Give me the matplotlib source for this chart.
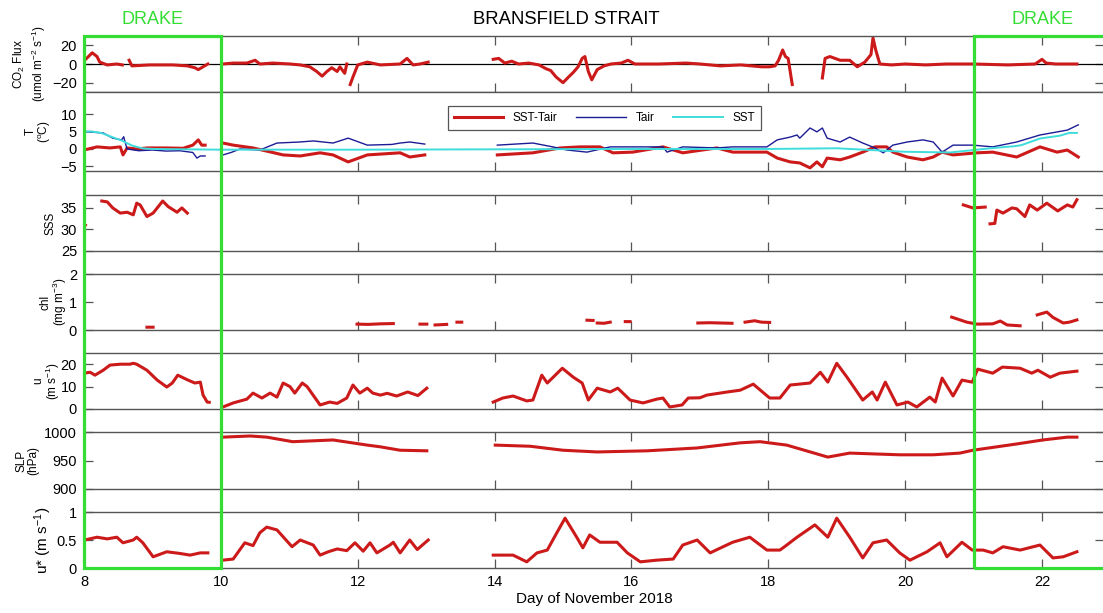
import numpy as np
import matplotlib.pyplot as plt
from matplotlib.patches import Rectangle
from matplotlib import transforms

plt.rcParams['font.family'] = ['Liberation Sans', 'DejaVu Sans']
plt.rcParams['mathtext.fontset'] = 'custom'
plt.rcParams['mathtext.rm'] = 'Liberation Sans'
plt.rcParams['mathtext.it'] = 'Liberation Sans:italic'
plt.rcParams['mathtext.default'] = 'regular'

nan = np.nan

# ---- cruise data (day of November 2018), nan marks gaps in the record ----
co2_t = [8.01, 8.12, 8.19, 8.23, 8.34, 8.48, 8.56, nan,
         8.66, 8.70, 8.96, 9.30, 9.51, 9.62, 9.67, 9.74, 9.81, nan,
         10.03, 10.18, 10.38, 10.50, 10.57, 10.76, 11.01, 11.16, 11.30, 11.40, 11.48, 11.55, 11.62, 11.70,
         11.74, 11.81, 11.84, nan,
         11.89, 11.93, 12.00, 12.14, 12.33, 12.62, 12.72, 12.81, 12.91, 13.03, nan,
         13.98, 14.06, 14.15, 14.25, 14.35, 14.50, 14.65, 14.75, 14.82, 14.90, 15.00, 15.08, 15.15, 15.22,
         15.28, 15.32, 15.37, 15.42, 15.50, 15.60, 15.70, 15.85, 15.95, 16.05, 16.40, 16.80, 17.00, 17.30,
         17.60, 17.90, 18.02, 18.10, 18.15, 18.21, 18.25, 18.29, 18.35, nan,
         18.79, 18.83, 18.90, 19.05, 19.19, 19.30, 19.41, 19.50, 19.53, 19.57, 19.63, 19.80, 20.00, 20.30,
         20.60, 21.00, 21.50, 21.90, 22.00, 22.06, 22.20, 22.51]
co2_flux = [4, 12, 8, 2, -1, 0, -1, nan,
            4, -2, -1, -1, -2, -4, -6, -3, 0, nan,
            0, 1, 1, 4, 0, 1, 0, -1, -3, -8, -13, -8, -4, -8,
            -3, -10, 0, nan,
            -22, -14, -1, 2, -1, 0, 6, -1, 0, 2, nan,
            5, 6, 1, 3, 0, 1, -1, -5, -7, -14, -20, -14, -9, -3,
            6, 8, -8, -17, -6, -2, 0, 1, 4, 0, 0, 1, 0, -2,
            -1, -3, -3, -2, 4, 15, 8, 6, -22, nan,
            -15, 6, 8, 4, 4, -3, 2, 10, 28, 15, 0, -1, 0, -1,
            0, 0, -1, 0, 5, 1, 0, 0]

sst_t = [8.0, 8.1, 8.25, 8.4, 8.55, 8.7, 8.85, 9.0, 10.0, 12.0, 14.0, 16.0, 18.0, 18.5, 19.0,
         20.0, 20.66, 21.0, 21.3, 21.6, 21.7, 21.97, 22.26, 22.4, 22.51]
sst = [5.0, 5.0, 4.6, 3.5, 2.4, 1.0, 0.2, 0.0, -0.2, -0.2, -0.1, 0.0, 0.0, 0.1, 0.2,
       -0.8, -1.0, -0.3, 0.3, 0.8, 1.1, 3.0, 3.8, 4.6, 4.6]

tair_t = [8.0, 8.04, 8.28, 8.42, 8.55, 8.58, 8.60, 8.63, 8.80, 9.00, 9.20, 9.40, 9.59, 9.65, 9.70, 9.77, nan,
          10.03, 10.15, 10.28, 10.57, 10.82, 11.16, 11.35, 11.64, 11.86, 12.14, 12.50, 12.62, 12.76, 12.98, nan,
          14.04, 14.56, 14.85, 15.06, 15.35, 15.69, 16.02, 16.46, 16.52, 16.75, 17.25, 17.48, 17.98, 18.13,
          18.32, 18.42, 18.46, 18.61, 18.71, 18.79, 18.86, 19.05, 19.19, 19.38, 19.56, 19.68, 19.82, 20.03,
          20.26, 20.41, 20.54, 20.70, 20.99, 21.28, 21.63, 21.97, 22.37, 22.53]
tair = [5.0, 4.9, 4.6, 3.1, 2.6, 3.5, 2.0, 0.0, -0.5, -0.3, -0.6, -0.5, -1.0, -2.6, -2.0, -2.0, nan,
        -1.7, -1.0, 0.0, -0.3, 1.7, 2.0, 2.3, 1.7, 3.1, 1.1, 1.3, 1.7, 2.0, 1.4, nan,
        1.1, 1.7, 0.6, -0.3, -0.9, 0.6, 0.6, 0.6, -0.9, 0.6, 0.3, 0.6, 0.6, 2.6,
        3.4, 4.0, 3.1, 6.0, 4.9, 6.0, 3.1, 2.0, 3.4, 1.7, 0.3, -1.1, 1.1, 2.0,
        2.6, 2.0, -0.9, 1.1, 1.1, 0.6, 2.0, 4.0, 5.4, 6.9]

dt_t = [8.0, 8.19, 8.38, 8.53, 8.57, 8.63, 8.77, 8.92, 9.20, 9.45, 9.59, 9.67, 9.72, 9.77, nan,
        10.03, 10.18, 10.47, 10.91, 11.16, 11.45, 11.64, 11.86, 12.14, 12.62, 12.76, 12.98, nan,
        14.04, 14.56, 14.96, 15.25, 15.54, 15.73, 16.02, 16.46, 16.75, 17.25, 17.48, 17.98, 18.13, 18.32,
        18.46, 18.61, 18.71, 18.79, 18.86, 19.05, 19.19, 19.38, 19.56, 19.73, 19.82, 20.03, 20.26, 20.41,
        20.54, 20.70, 21.05, 21.28, 21.63, 21.97, 22.22, 22.37, 22.53]
sst_minus_tair = [-0.3, 0.6, 0.3, 0.6, -1.7, 0.3, 0.0, 0.3, 0.3, 0.2, 1.1, 2.6, 1.1, 1.1, nan,
                  1.7, 1.1, 0.3, -1.7, -2.0, -1.1, -1.7, -3.7, -1.7, -1.1, -2.3, -1.7, nan,
                  -1.7, -1.1, 0.3, 0.6, 0.6, -1.1, -0.9, 0.6, -1.1, 0.3, -0.9, -0.9, -2.6, -3.7,
                  -4.0, -5.4, -3.7, -5.1, -2.6, -3.1, -2.3, -0.9, 0.6, 0.6, -0.9, -2.3, -3.1, -2.3,
                  -0.9, -1.7, -1.1, -0.9, -2.3, 0.6, -0.9, -0.3, -2.3]

sss_t = [8.00, 8.02, nan,
         8.26, 8.34, 8.42, 8.53, 8.63, 8.72, 8.77, 8.82, 8.92, 9.01, 9.15, 9.23, 9.36, 9.43, 9.51, nan,
         20.85, 20.99, 21.17, nan,
         21.24, 21.31, 21.34, 21.43, 21.56, 21.63, 21.75, 21.82, 21.93, 22.07, 22.23, 22.37, 22.45, 22.51]
sss = [31.2, 31.0, nan,
       36.6, 36.4, 35.0, 33.8, 34.0, 33.4, 36.1, 35.7, 33.0, 33.8, 36.6, 35.3, 34.0, 35.0, 33.8, nan,
       35.7, 35.0, 35.2, nan,
       31.3, 31.4, 34.5, 33.8, 35.0, 34.8, 33.0, 35.7, 34.5, 36.1, 34.3, 35.7, 35.2, 36.9]

chl_t = [8.92, 9.01, nan,
         11.99, 12.15, 12.33, 12.52, nan,
         12.91, 13.01, nan,
         13.13, 13.30, nan,
         13.45, 13.52, nan,
         15.35, 15.44, nan,
         15.50, 15.60, 15.69, nan,
         15.91, 15.98, nan,
         16.97, 17.15, 17.30, 17.47, nan,
         17.66, 17.80, 17.90, 18.02, nan,
         20.68, 20.90, 21.05, 21.28, 21.39, 21.49, 21.68, nan,
         21.93, 22.07, 22.16, 22.31, 22.40, 22.51]
chl = [0.10, 0.10, nan,
       0.21, 0.20, 0.22, 0.23, nan,
       0.21, 0.21, nan,
       0.18, 0.20, nan,
       0.28, 0.28, nan,
       0.35, 0.34, nan,
       0.25, 0.24, 0.28, nan,
       0.30, 0.30, nan,
       0.25, 0.26, 0.25, 0.24, nan,
       0.28, 0.33, 0.28, 0.27, nan,
       0.46, 0.28, 0.21, 0.22, 0.32, 0.18, 0.15, nan,
       0.54, 0.64, 0.45, 0.25, 0.28, 0.36]

u_t = [8.00, 8.09, 8.16, 8.28, 8.38, 8.53, 8.67, 8.72, 8.77, 8.92, 9.07, 9.21, 9.29, 9.37, 9.52, 9.62,
       9.70, 9.74, 9.80, 9.83, nan,
       10.03, 10.18, 10.38, 10.47, 10.60, 10.72, 10.82, 10.91, 11.01, 11.08, 11.19, 11.26, 11.45, 11.59,
       11.70, 11.84, 11.93, 12.03, 12.14, 12.22, 12.33, 12.43, 12.57, 12.73, 12.88, 13.01, nan,
       13.98, 14.12, 14.27, 14.47, 14.56, 14.69, 14.77, 14.99, 15.15, 15.28, 15.37, 15.50, 15.69, 15.80,
       15.98, 16.17, 16.37, 16.46, 16.56, 16.74, 16.83, 17.00, 17.10, 17.40, 17.59, 17.78, 18.02, 18.17,
       18.32, 18.61, 18.76, 18.87, 19.00, 19.15, 19.38, 19.52, 19.59, 19.71, 19.88, 20.04, 20.17, 20.36,
       20.44, 20.54, 20.70, 20.83, 20.98, 21.06, 21.28, 21.42, 21.68, 21.85, 21.94, 22.12, 22.26, 22.51]
u = [16.0, 16.4, 15.1, 17.3, 19.6, 20.0, 20.0, 20.4, 20.0, 17.3, 12.9, 9.8, 11.6, 15.1, 12.9, 11.6,
     12.0, 6.2, 3.1, 3.0, nan,
     0.9, 2.7, 4.4, 7.1, 4.9, 7.1, 5.3, 11.6, 10.0, 7.1, 11.6, 10.0, 1.8, 3.1,
     2.5, 4.9, 10.7, 7.1, 9.3, 7.1, 6.2, 7.0, 5.8, 7.6, 6.0, 9.3, nan,
     3.1, 4.9, 5.8, 3.6, 4.0, 15.1, 11.6, 18.2, 14.2, 11.6, 4.0, 9.3, 7.6, 9.3,
     4.0, 2.7, 4.4, 4.9, 0.9, 1.8, 4.9, 5.0, 6.2, 7.6, 8.4, 11.1, 4.9, 4.9,
     10.7, 11.6, 16.4, 12.0, 20.4, 14.2, 4.0, 7.6, 4.0, 12.0, 1.8, 3.1, 0.9, 5.3,
     3.1, 13.8, 5.8, 12.9, 12.0, 17.8, 16.0, 18.7, 18.2, 16.0, 17.3, 14.2, 16.0, 16.9]

slp_t = [10.03, 10.43, 10.67, 11.05, 11.64, 12.14, 12.33, 12.62, 13.01, nan,
         14.01, 14.52, 15.00, 15.50, 16.23, 16.96, 17.59, 17.88, 18.27, 18.87, 19.19, 19.92, 20.41,
         20.80, 20.99, 21.63, 22.01, 22.37, 22.51]
slp = [991, 993, 991, 983, 986, 977, 974, 968, 967, nan,
       977, 975, 968, 965, 967, 972, 981, 983, 977, 956, 963, 960, 960,
       963, 968, 979, 986, 991, 991]

ustar_t = [8.01, 8.19, 8.34, 8.48, 8.57, 8.72, 8.77, 8.86, 9.01, 9.21, 9.40, 9.55, 9.70, 9.81, nan,
           10.03, 10.18, 10.35, 10.47, 10.57, 10.67, 10.82, 11.04, 11.16, 11.35, 11.45, 11.57, 11.70,
           11.84, 11.96, 12.08, 12.18, 12.28, 12.47, 12.52, 12.62, 12.76, 12.87, 13.03, nan,
           13.98, 14.27, 14.47, 14.62, 14.77, 14.91, 15.03, 15.20, 15.29, 15.39, 15.54, 15.79, 15.94,
           16.13, 16.37, 16.61, 16.75, 16.96, 17.15, 17.34, 17.48, 17.73, 17.98, 18.17, 18.27, 18.42,
           18.61, 18.68, 18.87, 19.00, 19.19, 19.38, 19.53, 19.73, 19.92, 20.07, 20.32, 20.51, 20.61,
           20.83, 20.98, 21.14, 21.28, 21.43, 21.68, 21.97, 22.16, 22.31, 22.51]
ustar = [0.50, 0.55, 0.52, 0.55, 0.45, 0.50, 0.55, 0.45, 0.20, 0.29, 0.26, 0.23, 0.27, 0.27, nan,
         0.14, 0.16, 0.45, 0.40, 0.63, 0.73, 0.68, 0.38, 0.50, 0.41, 0.23, 0.29, 0.34,
         0.31, 0.45, 0.30, 0.45, 0.27, 0.41, 0.46, 0.27, 0.50, 0.33, 0.50, nan,
         0.23, 0.23, 0.11, 0.27, 0.32, 0.63, 0.89, 0.55, 0.36, 0.59, 0.46, 0.46, 0.27,
         0.11, 0.14, 0.16, 0.41, 0.50, 0.27, 0.38, 0.46, 0.55, 0.32, 0.32, 0.41, 0.55,
         0.71, 0.77, 0.55, 0.89, 0.55, 0.18, 0.45, 0.50, 0.27, 0.14, 0.29, 0.45, 0.20,
         0.46, 0.32, 0.32, 0.27, 0.38, 0.32, 0.41, 0.18, 0.20, 0.29]

red = '#cc1a1a'
blue = '#1c1c96'
cyan = '#3fdcdc'
green = '#33dd33'
frame = '#555555'

# ---- layout: 7 stacked panels, pixel rows (top, bottom) ----
W, H = 1103, 613
left_px, right_px = 84, 1104
rows = [(36, 92), (92, 171), (195, 251), (274, 330), (353, 409), (432, 489), (512, 568)]
px_per_day = 68.43

fig = plt.figure(figsize=(W / 100, H / 100), dpi=100)
axes = []
for top, bot in rows:
    ax = fig.add_axes([left_px / W, 1 - bot / H, (right_px - left_px) / W, (bot - top) / H])
    ax.set_xlim(8, 8 + (right_px - left_px) / px_per_day)
    ax.set_xticks(range(8, 23, 2))
    for s in ax.spines.values():
        s.set_color(frame)
        s.set_linewidth(1.0)
    ax.tick_params(direction='in', length=6.5, width=0.9, color=frame, top=True, right=True,
                   labelsize=10.5, pad=5)
    ax.tick_params(axis='x', labelbottom=False)
    axes.append(ax)
ax_co2, ax_t, ax_sss, ax_chl, ax_u, ax_slp, ax_us = axes

# CO2 flux
ax_co2.axhline(0, color='k', lw=0.9)
ax_co2.plot(co2_t, co2_flux, color=red, lw=2.2)
ax_co2.set_ylim(-30, 30)
ax_co2.set_yticks([-20, 0, 20])
ax_co2.set_ylabel('CO$_2$ Flux\n(umol m$^{-2}$ s$^{-1}$)', fontsize=8.5)
ax_co2.yaxis.set_label_coords(-0.035, 0.5)

# temperatures
ax_t.plot(dt_t, sst_minus_tair, color=red, lw=2.2, label='SST-Tair')
ax_t.plot(tair_t, tair, color=blue, lw=1.0, label='Tair')
ax_t.plot(sst_t, sst, color=cyan, lw=1.4, label='SST')
ax_t.set_ylim(-6.3, 16.3)
ax_t.set_yticks([-5, 0, 5, 10])
ax_t.tick_params(top=False, right=False)
ax_t.set_ylabel('T\n($^o$C)', fontsize=8.5, linespacing=0.95)
ax_t.yaxis.set_label_coords(-0.030, 0.5)
leg = ax_t.legend(ncol=3, loc='center', bbox_to_anchor=(0.51, 0.67), fontsize=8.5, fancybox=False,
                  edgecolor=frame, framealpha=1, handlelength=4.2, columnspacing=1.6, borderpad=0.5)
leg.get_frame().set_linewidth(0.9)

# salinity
ax_sss.plot(sss_t, sss, color=red, lw=2.2)
ax_sss.set_ylim(25, 38)
ax_sss.set_yticks([25, 30, 35])
ax_sss.set_ylabel('SSS', fontsize=8.5)
ax_sss.yaxis.set_label_coords(-0.027, 0.5)

# chlorophyll
ax_chl.plot(chl_t, chl, color=red, lw=2.2)
ax_chl.set_ylim(0, 2)
ax_chl.set_yticks([0, 1, 2])
ax_chl.set_ylabel('chl\n(mg m$^{-3}$)', fontsize=8.5, linespacing=0.95)
ax_chl.yaxis.set_label_coords(-0.015, 0.5)

# wind speed
ax_u.plot(u_t, u, color=red, lw=2.2)
ax_u.set_ylim(0, 25)
ax_u.set_yticks([0, 10, 20])
ax_u.set_ylabel('u\n(m s$^{-1}$)', fontsize=8.5, linespacing=0.95)
ax_u.yaxis.set_label_coords(-0.022, 0.5)

# sea level pressure
ax_slp.plot(slp_t, slp, color=red, lw=2.2)
ax_slp.set_ylim(900, 1000)
ax_slp.set_yticks([900, 950, 1000])
ax_slp.set_ylabel('SLP\n(hPa)', fontsize=8.5, linespacing=1.0)
ax_slp.yaxis.set_label_coords(-0.044, 0.5)

# friction velocity
ax_us.plot(ustar_t, ustar, color=red, lw=2.2)
ax_us.set_ylim(0, 1)
ax_us.set_yticks([0, 0.5, 1])
ax_us.set_yticklabels(['0', '0.5', '1'])
ax_us.set_ylabel('u* (m s$^{-1}$)', fontsize=11)
ax_us.yaxis.set_label_coords(-0.029, 0.5)
ax_us.tick_params(axis='x', labelbottom=True)
ax_us.set_xlabel('Day of November 2018', fontsize=11)
ax_us.xaxis.set_label_coords(0.5, -0.42)

# Drake Passage sections boxed in green, regions named above
trans = transforms.blended_transform_factory(ax_us.transData, fig.transFigure)
y0 = 1 - rows[-1][1] / H
box_h = (rows[-1][1] - rows[0][0]) / H
for x0, x1 in [(8, 10), (21, 23.5)]:
    fig.add_artist(Rectangle((x0, y0), x1 - x0, box_h, fill=False, ec=green, lw=2.3,
                             transform=trans, clip_on=False, zorder=5))
title_y = 1 - 20 / H
fig.text(9.0, title_y, 'DRAKE', color=green, fontsize=13, ha='center', va='center', transform=trans)
fig.text(22.0, title_y, 'DRAKE', color=green, fontsize=13, ha='center', va='center', transform=trans)
fig.text(15.05, title_y, 'BRANSFIELD STRAIT', color='k', fontsize=13.3, ha='center', va='center',
         transform=trans)

fig.savefig('out.png', dpi=100)
